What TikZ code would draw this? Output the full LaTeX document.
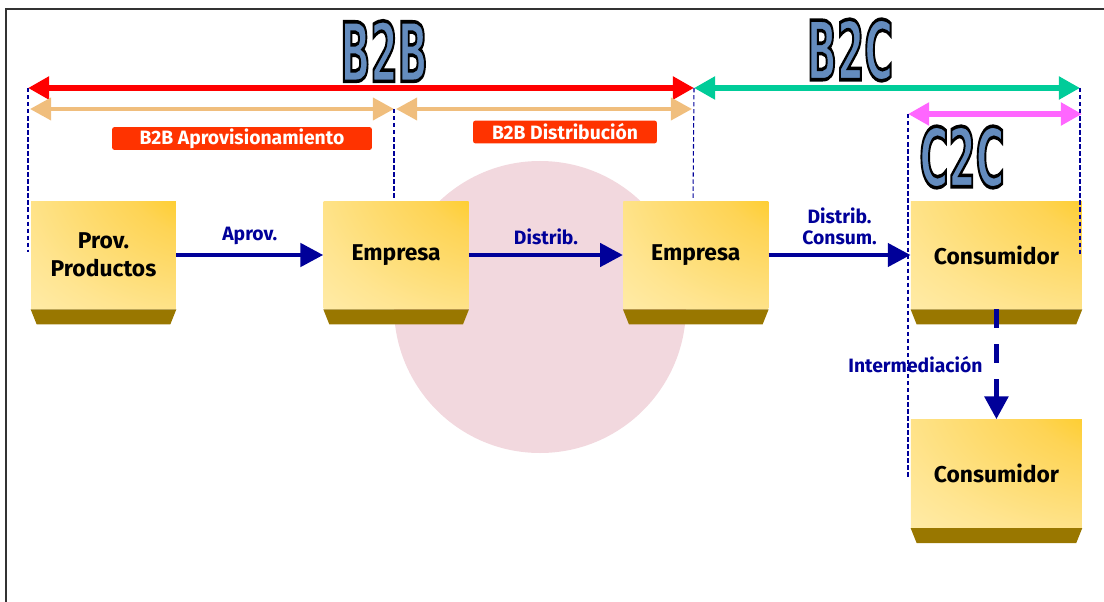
\documentclass[tikz,border=0pt]{standalone}
\usepackage{fontspec}
\setmainfont{Fira Sans}
\newfontfamily\bigfont{DejaVu Sans Condensed Bold}
\usetikzlibrary{arrows.meta,positioning}

\definecolor{navy}{RGB}{0,0,153}
\definecolor{spanred}{RGB}{255,0,0}
\definecolor{spantan}{RGB}{240,190,125}
\definecolor{spangreen}{RGB}{0,204,153}
\definecolor{spanpink}{RGB}{255,102,255}
\definecolor{tagred}{RGB}{255,51,0}
\definecolor{boxbase}{RGB}{153,119,0}
\definecolor{boxcream}{RGB}{255,240,185}
\definecolor{boxorange}{RGB}{255,198,0}
\definecolor{boxmid}{RGB}{254,212,85}
\definecolor{blobpink}{RGB}{242,216,222}
\definecolor{titleblue}{RGB}{100,140,190}

\pgfdeclareradialshading{boxglow}{\pgfpoint{50bp}{50bp}}{%
  color(0bp)=(boxorange); color(12bp)=(boxorange); color(35bp)=(boxmid);
  color(65bp)=(boxcream!60!boxmid); color(90bp)=(boxcream); color(200bp)=(boxcream)}

% outlined title letters
\newcommand{\bigtag}[1]{\scalebox{0.83}[1.55]{\fontsize{30}{30}\selectfont\bigfont\color{titleblue}%
  \special{pdf:code 0 0 0 RG 2 Tr 1.3 w}#1\special{pdf:code 0 Tr}}}

\begin{document}
\begin{tikzpicture}[
    x=0.02cm, y=-0.02cm,
    stage/.style={shading=boxglow, minimum width=2.9cm, minimum height=2.16cm, inner sep=2pt, align=center, font=\fontsize{13}{16}\selectfont\bfseries},
    widestage/.style={stage, minimum width=3.42cm},
    tag/.style={fill=tagred, text=white, rounded corners=1.5pt, minimum height=0.46cm, inner sep=0pt, font=\fontsize{11}{12}\selectfont\bfseries},
    flow/.style={navy, line width=2.8pt, -{Triangle[length=13pt,width=13pt]}},
    flowlabel/.style={text=navy, font=\fontsize{11}{12}\selectfont\bfseries},
    spanarrow/.style={line width=#1, {Triangle[length=12pt,width=12.5pt]}-{Triangle[length=12pt,width=12.5pt]}},
    guide/.style={navy, line width=0.6pt, dash pattern=on 2.5pt off 1.5pt}
  ]
    \useasboundingbox (0,0) rectangle (1104,601);
    \draw[black!80, line width=1.4pt] (6,610) -- (6,9) -- (1110,9);

    \fill[blobpink] (540,307) circle [radius=146];

    \coordinate (b2bL) at (28,88);
    \coordinate (b2bR) at (694,88);
    \coordinate (b2cR) at (1080,88);
    \coordinate (aprovL) at (30,109);
    \coordinate (aprovR) at (394,109);
    \coordinate (distL) at (396,109);
    \coordinate (distR) at (692,109);
    \coordinate (c2cL) at (908,114);
    \coordinate (c2cR) at (1082,114);

    \draw[spanarrow=3.4pt, spanred] (b2bL) -- (b2bR);
    \draw[spanarrow=3pt, spangreen] (b2bR) -- (b2cR);
    \draw[spanarrow=2.3pt, spantan] (aprovL) -- (aprovR);
    \draw[spanarrow=2.3pt, spantan] (distL) -- (distR);
    \draw[spanarrow=3pt, spanpink] (c2cL) -- (c2cR);

    \node (b2b) at (384,51) {\bigtag{B2B}};
    \node (b2c) at (850,50) {\bigtag{B2C}};
    \node (c2c) at (962,157) {\bigtag{C2C}};

    \node[tag, minimum width=5.2cm] (tagaprov) at (242,138.5) {B2B Aprovisionamiento};
    \node[tag, minimum width=3.68cm] (tagdist) at (565,132) {B2B Distribución};

    \node[stage] (prov) at (103.5,255) {Prov.\\Productos};
    \node[stage, right=2.94cm of prov] (emp1) {Empresa};
    \node[stage, right=3.08cm of emp1] (emp2) {Empresa};
    \node[widestage, right=2.84cm of emp2] (cons1) {Consumidor};
    \node[widestage, below=2.2cm of cons1] (cons2) {Consumidor};

    % dark base under each box
    \foreach \n in {prov,emp1,emp2,cons1,cons2}
      \fill[boxbase] (\n.south west) -- (\n.south east) -- ([shift={(-6,15)}]\n.south east) -- ([shift={(6,15)}]\n.south west) -- cycle;

    \draw[guide] (b2bL) -- (28,252);
    \draw[guide] (aprovR) -- (394,200);
    \draw[guide] (b2bR) -- (693,200);
    \draw[guide] (c2cL) -- (908,478);
    \draw[guide] (b2cR) -- (1080,254);

    \draw[flow] (prov) -- node[flowlabel, above=1pt] {Aprov.} (emp1);
    \draw[flow] (emp1) -- node[flowlabel, above=1pt] {Distrib.} (emp2);
    \draw[flow] (emp2) -- node[flowlabel, above=1pt, align=center] {Distrib.\\Consum.} (cons1);
    \draw[flow, line width=3.2pt, dash pattern=on 10.8pt off 9.1pt] (cons1.south) -- node[flowlabel, left=3pt] {Intermediación} (cons2.north);
  \end{tikzpicture}
\end{document}
